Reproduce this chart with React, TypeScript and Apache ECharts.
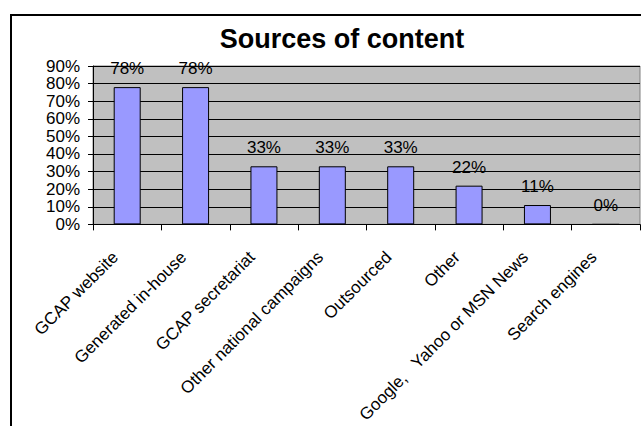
import React, { useEffect, useRef } from "react";
import * as echarts from "echarts";

const categories = [
  "GCAP website",
  "Generated in-house",
  "GCAP secretariat",
  "Other national campaigns",
  "Outsourced",
  "Other",
  "Google,   Yahoo or MSN News",
  "Search engines",
];
const values = [78, 78, 33, 33, 33, 22, 11, 0];
const yTicks = { min: 0, max: 90, interval: 10 };
const title = "Sources of content";

const FONT = "'Liberation Sans', Arial, sans-serif";

export default function App() {
  const ref = useRef<HTMLDivElement>(null);
  useEffect(() => {
    if (!ref.current) return;
    const chart = echarts.init(ref.current, undefined, { renderer: "svg" });
    chart.setOption({
      animation: false,
      backgroundColor: "#ffffff",
      title: {
        text: title,
        left: 342,
        textAlign: "center",
        top: 25,
        padding: 0,
        textStyle: { fontFamily: FONT, fontSize: 27, fontWeight: "bold", color: "#000" },
      },
      graphic: [
        {
          type: "rect",
          shape: { x: 11, y: 15, width: 700, height: 500 },
          style: { fill: "none", stroke: "#000", lineWidth: 2 },
          silent: true,
        },
      ],
      grid: {
        left: 93,
        top: 66,
        width: 547,
        height: 167,
        show: true,
        backgroundColor: "#c0c0c0",
        borderColor: "#808080",
        borderWidth: 1,
        containLabel: false,
      },
      xAxis: {
        type: "category",
        data: categories,
        axisLine: { show: true, lineStyle: { color: "#000", width: 1 } },
        axisTick: { show: true, length: 6, lineStyle: { color: "#000" }, alignWithLabel: false },
        axisLabel: {
          interval: 0,
          rotate: 45,
          margin: 18,
          padding: [0, 17, 0, 0],
          color: "#000",
          fontFamily: FONT,
          fontSize: 17,
        },
        splitLine: { show: false },
      },
      yAxis: {
        type: "value",
        min: yTicks.min,
        max: yTicks.max,
        interval: yTicks.interval,
        axisLine: { show: true, lineStyle: { color: "#000", width: 1 } },
        axisTick: { show: true, length: 5, lineStyle: { color: "#000" } },
        axisLabel: {
          formatter: "{value}%",
          margin: 13,
          color: "#000",
          fontFamily: FONT,
          fontSize: 17,
        },
        splitLine: { show: true, lineStyle: { color: "#000", width: 1 } },
      },
      series: [
        {
          type: "bar",
          data: values,
          barWidth: 27,
          itemStyle: { color: "#9999ff", borderColor: "#000", borderWidth: 1 },
          label: {
            show: true,
            position: "top",
            distance: 10,
            formatter: (p: any) => `${p.value}%`,
            color: "#000",
            fontFamily: FONT,
            fontSize: 17,
          },
        },
      ],
    });
    return () => chart.dispose();
  }, []);
  return (
    <div
      ref={ref}
      style={{ position: "fixed", left: 0, top: 0, width: 641, height: 426 }}
    />
  );
}
